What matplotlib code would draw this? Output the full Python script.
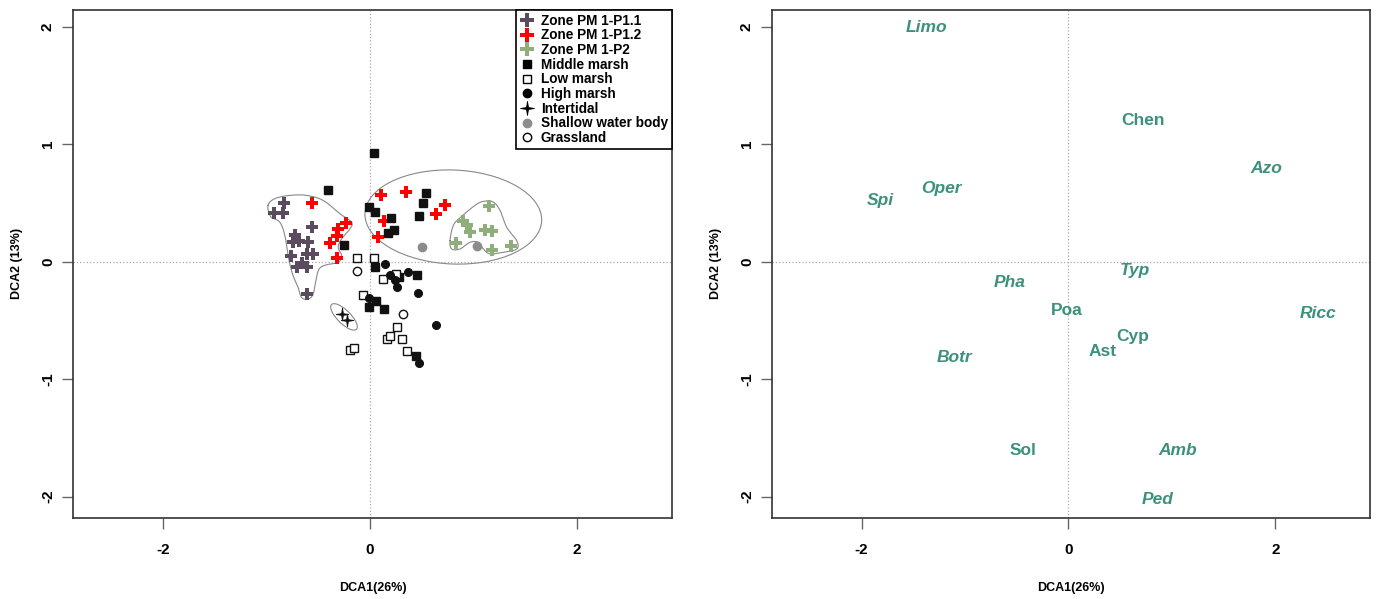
import numpy as np
from matplotlib import pyplot as plt
from matplotlib.patches import Ellipse
from matplotlib.lines import Line2D

plt.rcParams['font.family'] = ['Liberation Sans', 'DejaVu Sans']
plt.rcParams['font.weight'] = 'bold'
plt.rcParams['axes.unicode_minus'] = False

# --- samples (DCA1, DCA2) ---
p11_x = [-0.831, -0.928, -0.837, -0.557, -0.725, -0.747, -0.683, -0.596, -0.757, -0.612, -0.548, -0.708, -0.612, -0.660, -0.612]
p11_y = [0.498, 0.416, 0.416, 0.299, 0.231, 0.165, 0.179, 0.165, 0.051, 0.066, 0.066, -0.043, -0.043, -0.010, -0.271]

p12_x = [-0.557, -0.232, -0.306, -0.316, -0.386, -0.322, 0.103, 0.345, 0.725, 0.638, 0.135, 0.080]
p12_y = [0.498, 0.327, 0.279, 0.222, 0.160, 0.032, 0.564, 0.592, 0.479, 0.402, 0.350, 0.208]

p2_x = [1.153, 0.902, 0.940, 0.966, 1.111, 1.176, 0.831, 1.176, 1.359]
p2_y = [0.470, 0.342, 0.308, 0.250, 0.271, 0.265, 0.156, 0.100, 0.137]

middle_x = [0.039, -0.403, 0.541, 0.509, 0.476, -0.007, 0.048, 0.200, 0.232, 0.177, -0.251, 0.048, 0.280, 0.457, 0.055, -0.010, 0.138, 0.441]
middle_y = [0.929, 0.607, 0.587, 0.498, 0.385, 0.464, 0.421, 0.373, 0.271, 0.245, 0.143, -0.043, -0.128, -0.114, -0.333, -0.390, -0.405, -0.803]

low_x = [-0.129, 0.039, 0.122, 0.251, -0.064, 0.264, 0.161, 0.193, 0.306, 0.361, -0.193, -0.151]
low_y = [0.032, 0.032, -0.148, -0.105, -0.285, -0.556, -0.661, -0.632, -0.661, -0.761, -0.755, -0.732]

high_x = [0.145, 0.193, 0.370, 0.242, 0.258, 0.461, -0.010, 0.635, 0.473]
high_y = [-0.020, -0.111, -0.085, -0.157, -0.214, -0.268, -0.313, -0.541, -0.866]

inter_x = [-0.274, -0.225]
inter_y = [-0.442, -0.496]

shallow_x = [0.506, 1.031]
shallow_y = [0.128, 0.137]

grass_x = [-0.129, 0.322]
grass_y = [-0.077, -0.447]

# outlines drawn round the groups
hull1_x = [-0.983, -0.918, -0.773, -0.612, -0.451, -0.290, -0.177, -0.193, -0.273, -0.306, -0.273, -0.306,
           -0.418, -0.490, -0.522, -0.548, -0.596, -0.660, -0.693, -0.741, -0.780, -0.821, -0.870, -0.959]
hull1_y = [0.479, 0.536, 0.564, 0.564, 0.521, 0.408, 0.336, 0.279, 0.194, 0.122, 0.051, -0.006,
           -0.026, -0.062, -0.162, -0.276, -0.319, -0.305, -0.220, -0.120, 0.009, 0.222, 0.336, 0.385]
hull2_x = [0.773, 0.805, 0.870, 1.014, 1.095, 1.191, 1.256, 1.320, 1.417, 1.417, 1.288, 1.159, 1.095, 1.046, 0.966, 0.870, 0.789]
hull2_y = [0.179, 0.308, 0.373, 0.479, 0.513, 0.507, 0.436, 0.293, 0.179, 0.108, 0.080, 0.066, 0.108, 0.165, 0.165, 0.108, 0.108]

# --- species scores ---
species = ['Limo', 'Chen', 'Azo', 'Oper', 'Spi', 'Typ', 'Pha', 'Poa', 'Ricc', 'Cyp', 'Ast', 'Botr', 'Amb', 'Sol', 'Ped']
sp_x = [-1.372, 0.723, 1.909, -1.228, -1.820, 0.646, -0.569, -0.013, 2.411, 0.624, 0.331, -1.106, 1.054, -0.441, 0.861]
sp_y = [1.989, 1.205, 0.795, 0.621, 0.521, -0.077, -0.177, -0.419, -0.444, -0.641, -0.761, -0.818, -1.607, -1.607, -2.028]
sp_italic = [True, False, True, True, True, True, True, False, True, False, False, True, True, False, True]

purple = '#5b4b5f'
red = '#ff0000'
green = '#8fae7b'
teal = '#3b917d'

# thin four-pointed star, like R's intertidal symbol
star4 = [(0, 1), (0.14, 0.14), (1, 0), (0.14, -0.14), (0, -1), (-0.14, -0.14), (-1, 0), (-0.14, 0.14), (0, 1)]


def smooth_closed(xs, ys, n=20):
    # closed Catmull-Rom curve through the outline vertices
    p = np.column_stack([xs, ys])
    m = len(p)
    t = np.linspace(0, 1, n, endpoint=False)[:, None]
    out = []
    for i in range(m):
        p0, p1, p2, p3 = p[(i - 1) % m], p[i], p[(i + 1) % m], p[(i + 2) % m]
        out.append(0.5 * (2 * p1 + (-p0 + p2) * t + (2 * p0 - 5 * p1 + 4 * p2 - p3) * t ** 2
                          + (-p0 + 3 * p1 - 3 * p2 + p3) * t ** 3))
    out = np.vstack(out + [p[:1]])
    return out[:, 0], out[:, 1]


def style_axes(ax):
    ax.set_xlim(-2.866, 2.916)
    ax.set_ylim(-2.179, 2.146)
    ax.set_xticks([-2, 0, 2])
    ax.set_yticks([-2, -1, 0, 1, 2])
    ax.axhline(0, color='#aaaaaa', ls=':', lw=0.9, zorder=0)
    ax.axvline(0, color='#aaaaaa', ls=':', lw=0.9, zorder=0)
    for s in ax.spines.values():
        s.set_color('#333333')
        s.set_linewidth(1.2)
    ax.tick_params(direction='out', length=8, width=1, color='#666666', labelsize=11)
    ax.tick_params(axis='x', pad=10)
    ax.tick_params(axis='y', pad=5, labelrotation=90)
    for lab in ax.get_yticklabels():
        lab.set_va('center')
    ax.set_xlabel('DCA1(26%)', fontsize=9, fontweight='bold', labelpad=18.5)
    ax.set_ylabel('DCA2 (13%)', fontsize=9, fontweight='bold', labelpad=13)


fig = plt.figure(figsize=(13.78, 5.99), dpi=100)
ax1 = fig.add_axes([73 / 1378, 1 - 517.7 / 599, 599 / 1378, 508.2 / 599])
ax2 = fig.add_axes([772 / 1378, 1 - 517.7 / 599, 598 / 1378, 508.2 / 599])

# left panel: samples
hx, hy = smooth_closed(hull1_x, hull1_y)
ax1.plot(hx, hy, color='#888888', lw=0.8, zorder=1)
hx, hy = smooth_closed(hull2_x, hull2_y)
ax1.plot(hx, hy, color='#888888', lw=0.8, zorder=1)
ax1.add_patch(Ellipse((0.805, 0.380), 1.707, 0.80, angle=-2, fill=False, ec='#888888', lw=0.8, zorder=1))
ax1.add_patch(Ellipse((-0.25, -0.47), 0.32, 0.12, angle=-40, fill=False, ec='#888888', lw=0.8, zorder=1))

ax1.plot(p11_x, p11_y, 'P', color=purple, ms=8.5, mew=0, ls='none', zorder=3)
ax1.plot(p12_x, p12_y, 'P', color=red, ms=8.5, mew=0, ls='none', zorder=3)
ax1.plot(p2_x, p2_y, 'P', color=green, ms=8.5, mew=0, ls='none', zorder=3)
ax1.plot(middle_x, middle_y, 's', color='#111111', ms=5.5, ls='none', zorder=3)
ax1.plot(low_x, low_y, 's', mfc='white', mec='#111111', mew=1, ms=5.5, ls='none', zorder=3)
ax1.plot(high_x, high_y, 'o', color='#111111', ms=5.5, ls='none', zorder=3)
ax1.plot(inter_x, inter_y, marker=star4, color='#111111', ms=9, mew=0.6, ls='none', zorder=3)
ax1.plot(shallow_x, shallow_y, 'o', color='#8c8c8c', ms=6, ls='none', zorder=3)
ax1.plot(grass_x, grass_y, 'o', mfc='white', mec='#111111', mew=1, ms=6, ls='none', zorder=3)

handles = [
    Line2D([], [], marker='P', color=purple, mew=0, ms=9.5, ls='none', label='Zone PM 1-P1.1'),
    Line2D([], [], marker='P', color=red, mew=0, ms=9.5, ls='none', label='Zone PM 1-P1.2'),
    Line2D([], [], marker='P', color=green, mew=0, ms=9.5, ls='none', label='Zone PM 1-P2'),
    Line2D([], [], marker='s', color='black', ms=5.5, ls='none', label='Middle marsh'),
    Line2D([], [], marker='s', mfc='white', mec='black', mew=1, ms=6, ls='none', label='Low marsh'),
    Line2D([], [], marker='o', color='black', ms=6, ls='none', label='High marsh'),
    Line2D([], [], marker=star4, color='black', ms=10, mew=0.6, ls='none', label='Intertidal'),
    Line2D([], [], marker='o', color='#8c8c8c', ms=6, ls='none', label='Shallow water body'),
    Line2D([], [], marker='o', mfc='white', mec='black', mew=1, ms=6, ls='none', label='Grassland'),
]
leg = ax1.legend(handles=handles, loc='upper right', borderaxespad=0, fancybox=False,
                 framealpha=1, edgecolor='black', labelspacing=0.05,
                 handlelength=1.0, handletextpad=0.5, borderpad=0.3,
                 prop={'weight': 'bold', 'size': 9.8})
leg.get_frame().set_linewidth(1.2)

style_axes(ax1)

# right panel: species
for name, x, y, it in zip(species, sp_x, sp_y, sp_italic):
    ax2.text(x, y, name, ha='center', va='center', color=teal, fontsize=12.5,
             fontweight='bold', fontstyle='italic' if it else 'normal')

style_axes(ax2)

fig.savefig('out.png', dpi=100)
